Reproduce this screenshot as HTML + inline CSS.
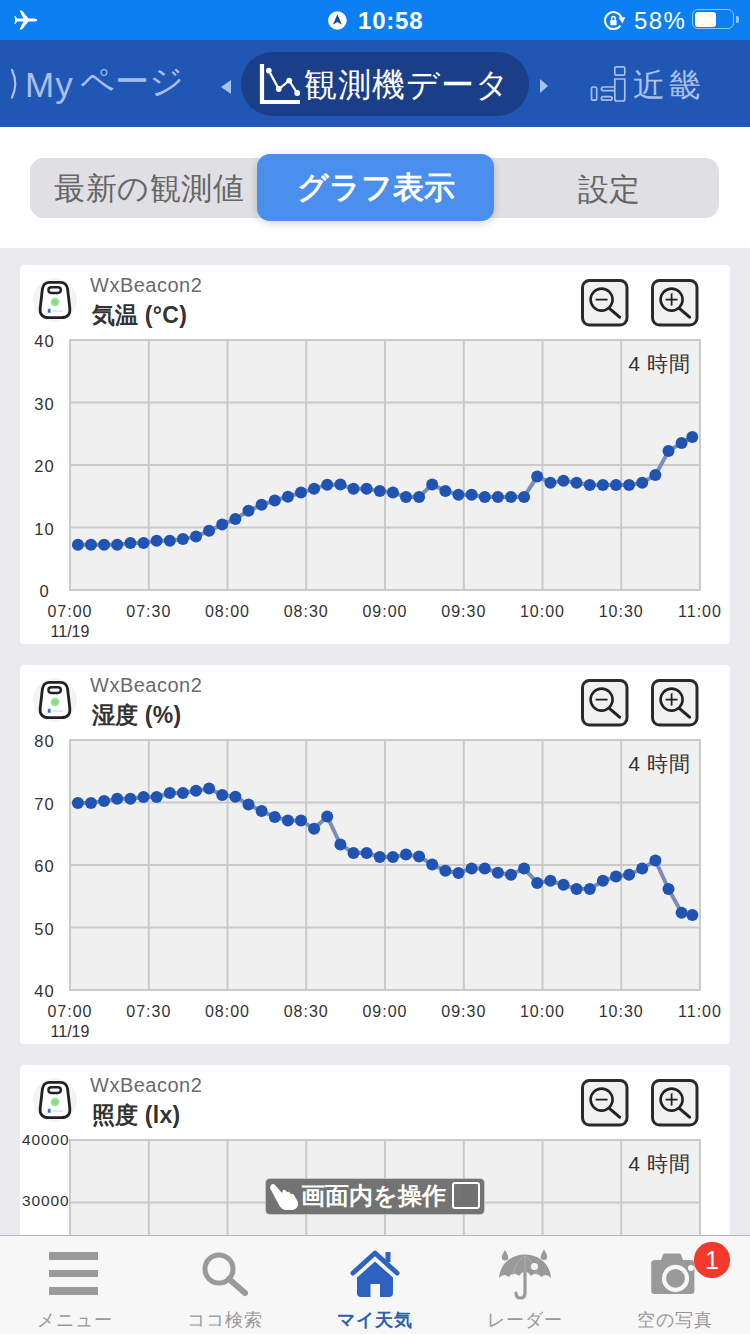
<!DOCTYPE html>
<html lang="ja">
<head>
<meta charset="utf-8">
<title>観測機データ</title>
<style>
html,body{margin:0;padding:0;}
body{width:750px;height:1334px;overflow:hidden;position:relative;background:#ebebef;font-family:"Liberation Sans",sans-serif;color:#333;}
.abs{position:absolute;}
#sb{position:absolute;left:0;top:0;width:750px;height:40px;background:#0c7ff3;}
#nav{position:absolute;left:0;top:40px;width:750px;height:87px;background:#2157b4;}
#seg-wrap{position:absolute;left:0;top:127px;width:750px;height:121px;background:#fff;}
.card{position:absolute;left:20px;width:710px;height:379px;background:#fff;border-radius:4px;}
.dn{position:absolute;left:90px;font-size:20px;line-height:24px;color:#6a6a6a;letter-spacing:0.5px;margin-top:-2.5px;}
.ttl{position:absolute;left:91.5px;font-size:23px;line-height:26px;color:#333;font-weight:bold;letter-spacing:0.3px;}
.yl{position:absolute;left:5px;width:80px;text-align:center;font-size:16.5px;line-height:20px;color:#333;margin-left:-0.5px;margin-top:1px;letter-spacing:1px;}
.yl.s{font-size:15.5px;line-height:18px;text-align:right;width:69.5px;left:0;margin-left:0;letter-spacing:0.9px;}
.xl{position:absolute;width:80px;text-align:center;font-size:16px;line-height:20px;color:#333;letter-spacing:1px;margin-top:1.8px;}
.hr4{position:absolute;right:59px;font-size:21px;line-height:24px;color:#333;letter-spacing:0.8px;}
#charts{position:absolute;left:0;top:0;}
#tab{position:absolute;left:0;top:1235px;width:750px;height:99px;background:#f7f7f7;border-top:1px solid #b4b4b4;}
.tl{position:absolute;top:73px;width:150px;text-align:center;font-size:18px;line-height:22px;color:#999;letter-spacing:1px;}
</style>
</head>
<body>
<!-- status bar -->
<div id="sb">
  <svg class="abs" style="left:14px;top:9px" width="24" height="22" viewBox="0 0 24 22">
    <path d="M3 9.5 L9.5 9.5 L5.5 1.5 L8 1.5 L14.5 9.5 L20 9.5 Q23 9.5 23 11 Q23 12.5 20 12.5 L14.5 12.5 L8 20.5 L5.5 20.5 L9.5 12.5 L3 12.5 L1.5 15 L0.5 15 L1.2 11 L0.5 7 L1.5 7 Z" fill="#fff"/>
  </svg>
  <svg class="abs" style="left:328px;top:11px" width="20" height="20" viewBox="0 0 20 20">
    <circle cx="9.4" cy="9.5" r="9.3" fill="#fff"/>
    <path d="M9.4 3.3 L13.9 13.7 L9.4 11 L4.9 13.7 Z" fill="#1c4a9a"/>
  </svg>
  <div class="abs" style="left:358px;top:6px;font-size:24px;line-height:30px;color:#fff;font-weight:bold;letter-spacing:0.8px;">10:58</div>
  <svg class="abs" style="left:603px;top:11px" width="23" height="20" viewBox="0 0 23 20">
    <path d="M17.46 14.48 A8.5 8.5 0 1 1 18.71 7.4" fill="none" stroke="#fff" stroke-width="2"/>
    <path d="M15.6 6.6 L22.2 6.2 L19.4 12.4 Z" fill="#fff"/>
    <rect x="7.2" y="9" width="6.4" height="5.2" rx="0.8" fill="#fff"/>
    <path d="M8.6 9.2 V7.4 A1.8 1.8 0 0 1 12.2 7.4 V9.2" fill="none" stroke="#fff" stroke-width="1.5"/>
  </svg>
  <div class="abs" style="left:634px;top:6px;font-size:24px;line-height:30px;color:#fff;letter-spacing:1.4px;">58%</div>
  <div class="abs" style="left:692px;top:9px;width:40px;height:18px;border:1.5px solid rgba(255,255,255,0.55);border-radius:6px;"></div>
  <div class="abs" style="left:695px;top:12px;width:21px;height:15px;background:#fffdf0;border-radius:3px;"></div>
  <div class="abs" style="left:736px;top:16px;width:2.5px;height:7px;background:rgba(255,255,255,0.55);border-radius:0 2px 2px 0;"></div>
</div>
<!-- nav -->
<div id="nav">
  <svg class="abs" style="left:8px;top:28px" width="14" height="32" viewBox="0 0 14 32"><path d="M4 2 Q10.5 15.5 4 29.5" fill="none" stroke="#a9c0ea" stroke-width="2.2" stroke-linecap="round"/></svg>
  <div class="abs" style="left:25px;top:25px;font-size:35px;line-height:40px;color:#a9c0ea;letter-spacing:1.2px;">My</div><div class="abs" style="left:80px;top:21px;font-size:34px;line-height:40px;color:#a9c0ea;letter-spacing:0.2px;">ページ</div>
  <div class="abs" style="left:221px;top:40px;width:0;height:0;border-top:7px solid transparent;border-bottom:7px solid transparent;border-right:10px solid #a9c0ea;"></div>
  <div class="abs" style="left:241px;top:12px;width:288px;height:64px;background:#1b3e88;border-radius:32px;"></div>
  <svg class="abs" style="left:259px;top:23px" width="42" height="42" viewBox="0 0 42 42">
    <path d="M3 1 V39 H41" fill="none" stroke="#fff" stroke-width="4.2"/>
    <polyline points="9.8,7.6 19.8,26 30.2,17.6 38.2,30" fill="none" stroke="#fff" stroke-width="2.2"/>
    <circle cx="9.8" cy="7.6" r="2.9" fill="#fff"/>
    <circle cx="19.8" cy="26" r="2.9" fill="#fff"/>
    <circle cx="30.2" cy="17.6" r="2.9" fill="#fff"/>
    <circle cx="38.2" cy="30" r="2.9" fill="#fff"/>
  </svg>
  <div class="abs" style="left:304px;top:24.5px;font-size:33px;line-height:40px;color:#fff;letter-spacing:1.1px;">観測機データ</div>
  <div class="abs" style="left:540px;top:39px;width:0;height:0;border-top:7.5px solid transparent;border-bottom:7.5px solid transparent;border-left:8px solid #a9c0ea;"></div>
  <svg class="abs" style="left:589px;top:25px" width="38" height="38" viewBox="0 0 38 38">
    <g fill="none" stroke="#a6bfee" stroke-width="1.7">
      <rect x="2.5" y="22" width="5.2" height="13.2" rx="1.8"/>
      <path d="M25.8 22 H14.2 Q12.4 22 12.4 23.8 Q12.4 25.6 14.2 25.6 H25.8"/>
      <rect x="12.4" y="31.6" width="10.6" height="3.6" rx="1.8"/>
      <path d="M25.8 14 H35.8 V34 Q35.8 36 33.8 36 H27.8 Q25.8 36 25.8 34 Z"/>
      <rect x="25.8" y="1.8" width="10" height="8.4" rx="1.5"/>
    </g>
  </svg>
  <div class="abs" style="left:633px;top:25px;font-size:32px;line-height:40px;color:#a9c0ea;letter-spacing:4px;">近畿</div>
</div>
<!-- segment -->
<div id="seg-wrap">
  <div class="abs" style="left:30px;top:31px;width:689px;height:60px;background:#dfdfe4;border-radius:14px;"></div>
  <div class="abs" style="left:54px;top:41.5px;font-size:31px;line-height:40px;color:#666;letter-spacing:0.6px;">最新の観測値</div>
  <div class="abs" style="left:257px;top:27px;width:237px;height:67px;background:#4a8eee;border-radius:13px;box-shadow:0 2px 8px rgba(0,0,0,0.18);"></div>
  <div class="abs" style="left:257px;top:41px;width:237px;text-align:center;font-size:31px;line-height:40px;color:#fff;font-weight:bold;">グラフ表示</div>
  <div class="abs" style="left:578px;top:42.5px;font-size:31px;line-height:40px;color:#666;">設定</div>
</div>
<!-- cards -->
<div class="card" style="top:265px"></div>
<div class="card" style="top:665px"></div>
<div class="card" style="top:1065px"></div>
<svg id="charts" width="750" height="1334" viewBox="0 0 750 1334">
<rect x="70" y="340" width="630" height="250" fill="#f0f0f0"/>
<line x1="70.0" y1="339" x2="70.0" y2="591" stroke="#cacaca" stroke-width="2"/>
<line x1="148.8" y1="339" x2="148.8" y2="591" stroke="#cacaca" stroke-width="2"/>
<line x1="227.5" y1="339" x2="227.5" y2="591" stroke="#cacaca" stroke-width="2"/>
<line x1="306.2" y1="339" x2="306.2" y2="591" stroke="#cacaca" stroke-width="2"/>
<line x1="385.0" y1="339" x2="385.0" y2="591" stroke="#cacaca" stroke-width="2"/>
<line x1="463.8" y1="339" x2="463.8" y2="591" stroke="#cacaca" stroke-width="2"/>
<line x1="542.5" y1="339" x2="542.5" y2="591" stroke="#cacaca" stroke-width="2"/>
<line x1="621.2" y1="339" x2="621.2" y2="591" stroke="#cacaca" stroke-width="2"/>
<line x1="700.0" y1="339" x2="700.0" y2="591" stroke="#cacaca" stroke-width="2"/>
<line x1="69" y1="340.0" x2="701" y2="340.0" stroke="#cacaca" stroke-width="2"/>
<line x1="69" y1="402.5" x2="701" y2="402.5" stroke="#cacaca" stroke-width="2"/>
<line x1="69" y1="465.0" x2="701" y2="465.0" stroke="#cacaca" stroke-width="2"/>
<line x1="69" y1="527.5" x2="701" y2="527.5" stroke="#cacaca" stroke-width="2"/>
<line x1="69" y1="590.0" x2="701" y2="590.0" stroke="#cacaca" stroke-width="2"/>
<polyline points="77.9,544.8 91.0,544.8 104.1,544.8 117.2,544.8 130.4,542.9 143.5,542.9 156.6,540.8 169.8,540.8 182.9,538.9 196.0,536.6 209.1,530.7 222.2,524.6 235.4,518.9 248.5,510.8 261.6,504.8 274.8,500.5 287.9,496.7 301.0,492.6 314.1,488.8 327.2,484.7 340.4,484.6 353.5,488.8 366.6,488.8 379.8,490.9 392.9,492.6 406.0,496.9 419.1,496.9 432.2,484.5 445.4,490.9 458.5,494.8 471.6,494.8 484.8,496.9 497.9,496.9 511.0,496.9 524.1,496.9 537.2,476.4 550.4,482.8 563.5,480.7 576.6,482.8 589.8,485.0 602.9,485.0 616.0,485.0 629.1,485.0 642.2,482.8 655.4,475.0 668.5,451.1 681.6,442.9 692.3,436.9" fill="none" stroke="#7a8fb8" stroke-width="4" stroke-linejoin="round"/>
<circle cx="77.9" cy="544.8" r="6" fill="#2154b2"/>
<circle cx="91.0" cy="544.8" r="6" fill="#2154b2"/>
<circle cx="104.1" cy="544.8" r="6" fill="#2154b2"/>
<circle cx="117.2" cy="544.8" r="6" fill="#2154b2"/>
<circle cx="130.4" cy="542.9" r="6" fill="#2154b2"/>
<circle cx="143.5" cy="542.9" r="6" fill="#2154b2"/>
<circle cx="156.6" cy="540.8" r="6" fill="#2154b2"/>
<circle cx="169.8" cy="540.8" r="6" fill="#2154b2"/>
<circle cx="182.9" cy="538.9" r="6" fill="#2154b2"/>
<circle cx="196.0" cy="536.6" r="6" fill="#2154b2"/>
<circle cx="209.1" cy="530.7" r="6" fill="#2154b2"/>
<circle cx="222.2" cy="524.6" r="6" fill="#2154b2"/>
<circle cx="235.4" cy="518.9" r="6" fill="#2154b2"/>
<circle cx="248.5" cy="510.8" r="6" fill="#2154b2"/>
<circle cx="261.6" cy="504.8" r="6" fill="#2154b2"/>
<circle cx="274.8" cy="500.5" r="6" fill="#2154b2"/>
<circle cx="287.9" cy="496.7" r="6" fill="#2154b2"/>
<circle cx="301.0" cy="492.6" r="6" fill="#2154b2"/>
<circle cx="314.1" cy="488.8" r="6" fill="#2154b2"/>
<circle cx="327.2" cy="484.7" r="6" fill="#2154b2"/>
<circle cx="340.4" cy="484.6" r="6" fill="#2154b2"/>
<circle cx="353.5" cy="488.8" r="6" fill="#2154b2"/>
<circle cx="366.6" cy="488.8" r="6" fill="#2154b2"/>
<circle cx="379.8" cy="490.9" r="6" fill="#2154b2"/>
<circle cx="392.9" cy="492.6" r="6" fill="#2154b2"/>
<circle cx="406.0" cy="496.9" r="6" fill="#2154b2"/>
<circle cx="419.1" cy="496.9" r="6" fill="#2154b2"/>
<circle cx="432.2" cy="484.5" r="6" fill="#2154b2"/>
<circle cx="445.4" cy="490.9" r="6" fill="#2154b2"/>
<circle cx="458.5" cy="494.8" r="6" fill="#2154b2"/>
<circle cx="471.6" cy="494.8" r="6" fill="#2154b2"/>
<circle cx="484.8" cy="496.9" r="6" fill="#2154b2"/>
<circle cx="497.9" cy="496.9" r="6" fill="#2154b2"/>
<circle cx="511.0" cy="496.9" r="6" fill="#2154b2"/>
<circle cx="524.1" cy="496.9" r="6" fill="#2154b2"/>
<circle cx="537.2" cy="476.4" r="6" fill="#2154b2"/>
<circle cx="550.4" cy="482.8" r="6" fill="#2154b2"/>
<circle cx="563.5" cy="480.7" r="6" fill="#2154b2"/>
<circle cx="576.6" cy="482.8" r="6" fill="#2154b2"/>
<circle cx="589.8" cy="485.0" r="6" fill="#2154b2"/>
<circle cx="602.9" cy="485.0" r="6" fill="#2154b2"/>
<circle cx="616.0" cy="485.0" r="6" fill="#2154b2"/>
<circle cx="629.1" cy="485.0" r="6" fill="#2154b2"/>
<circle cx="642.2" cy="482.8" r="6" fill="#2154b2"/>
<circle cx="655.4" cy="475.0" r="6" fill="#2154b2"/>
<circle cx="668.5" cy="451.1" r="6" fill="#2154b2"/>
<circle cx="681.6" cy="442.9" r="6" fill="#2154b2"/>
<circle cx="692.3" cy="436.9" r="6" fill="#2154b2"/>
<rect x="70" y="740" width="630" height="250" fill="#f0f0f0"/>
<line x1="70.0" y1="739" x2="70.0" y2="991" stroke="#cacaca" stroke-width="2"/>
<line x1="148.8" y1="739" x2="148.8" y2="991" stroke="#cacaca" stroke-width="2"/>
<line x1="227.5" y1="739" x2="227.5" y2="991" stroke="#cacaca" stroke-width="2"/>
<line x1="306.2" y1="739" x2="306.2" y2="991" stroke="#cacaca" stroke-width="2"/>
<line x1="385.0" y1="739" x2="385.0" y2="991" stroke="#cacaca" stroke-width="2"/>
<line x1="463.8" y1="739" x2="463.8" y2="991" stroke="#cacaca" stroke-width="2"/>
<line x1="542.5" y1="739" x2="542.5" y2="991" stroke="#cacaca" stroke-width="2"/>
<line x1="621.2" y1="739" x2="621.2" y2="991" stroke="#cacaca" stroke-width="2"/>
<line x1="700.0" y1="739" x2="700.0" y2="991" stroke="#cacaca" stroke-width="2"/>
<line x1="69" y1="740.0" x2="701" y2="740.0" stroke="#cacaca" stroke-width="2"/>
<line x1="69" y1="802.5" x2="701" y2="802.5" stroke="#cacaca" stroke-width="2"/>
<line x1="69" y1="865.0" x2="701" y2="865.0" stroke="#cacaca" stroke-width="2"/>
<line x1="69" y1="927.5" x2="701" y2="927.5" stroke="#cacaca" stroke-width="2"/>
<line x1="69" y1="990.0" x2="701" y2="990.0" stroke="#cacaca" stroke-width="2"/>
<polyline points="77.9,802.9 91.0,802.9 104.1,801.1 117.2,798.8 130.4,798.8 143.5,797.0 156.6,797.0 169.8,793.0 182.9,793.0 196.0,790.8 209.1,788.6 222.2,795.0 235.4,796.7 248.5,804.6 261.6,811.0 274.8,816.9 287.9,820.6 301.0,820.6 314.1,828.7 327.2,816.5 340.4,844.5 353.5,852.9 366.6,852.9 379.8,857.0 392.9,857.0 406.0,854.6 419.1,856.5 432.2,864.6 445.4,870.8 458.5,873.0 471.6,868.4 484.8,868.4 497.9,872.7 511.0,874.8 524.1,868.4 537.2,882.9 550.4,880.8 563.5,884.8 576.6,889.1 589.8,889.1 602.9,880.8 616.0,876.6 629.1,874.7 642.2,868.6 655.4,860.5 668.5,889.0 681.6,912.8 692.3,915.1" fill="none" stroke="#7a8fb8" stroke-width="4" stroke-linejoin="round"/>
<circle cx="77.9" cy="802.9" r="6" fill="#2154b2"/>
<circle cx="91.0" cy="802.9" r="6" fill="#2154b2"/>
<circle cx="104.1" cy="801.1" r="6" fill="#2154b2"/>
<circle cx="117.2" cy="798.8" r="6" fill="#2154b2"/>
<circle cx="130.4" cy="798.8" r="6" fill="#2154b2"/>
<circle cx="143.5" cy="797.0" r="6" fill="#2154b2"/>
<circle cx="156.6" cy="797.0" r="6" fill="#2154b2"/>
<circle cx="169.8" cy="793.0" r="6" fill="#2154b2"/>
<circle cx="182.9" cy="793.0" r="6" fill="#2154b2"/>
<circle cx="196.0" cy="790.8" r="6" fill="#2154b2"/>
<circle cx="209.1" cy="788.6" r="6" fill="#2154b2"/>
<circle cx="222.2" cy="795.0" r="6" fill="#2154b2"/>
<circle cx="235.4" cy="796.7" r="6" fill="#2154b2"/>
<circle cx="248.5" cy="804.6" r="6" fill="#2154b2"/>
<circle cx="261.6" cy="811.0" r="6" fill="#2154b2"/>
<circle cx="274.8" cy="816.9" r="6" fill="#2154b2"/>
<circle cx="287.9" cy="820.6" r="6" fill="#2154b2"/>
<circle cx="301.0" cy="820.6" r="6" fill="#2154b2"/>
<circle cx="314.1" cy="828.7" r="6" fill="#2154b2"/>
<circle cx="327.2" cy="816.5" r="6" fill="#2154b2"/>
<circle cx="340.4" cy="844.5" r="6" fill="#2154b2"/>
<circle cx="353.5" cy="852.9" r="6" fill="#2154b2"/>
<circle cx="366.6" cy="852.9" r="6" fill="#2154b2"/>
<circle cx="379.8" cy="857.0" r="6" fill="#2154b2"/>
<circle cx="392.9" cy="857.0" r="6" fill="#2154b2"/>
<circle cx="406.0" cy="854.6" r="6" fill="#2154b2"/>
<circle cx="419.1" cy="856.5" r="6" fill="#2154b2"/>
<circle cx="432.2" cy="864.6" r="6" fill="#2154b2"/>
<circle cx="445.4" cy="870.8" r="6" fill="#2154b2"/>
<circle cx="458.5" cy="873.0" r="6" fill="#2154b2"/>
<circle cx="471.6" cy="868.4" r="6" fill="#2154b2"/>
<circle cx="484.8" cy="868.4" r="6" fill="#2154b2"/>
<circle cx="497.9" cy="872.7" r="6" fill="#2154b2"/>
<circle cx="511.0" cy="874.8" r="6" fill="#2154b2"/>
<circle cx="524.1" cy="868.4" r="6" fill="#2154b2"/>
<circle cx="537.2" cy="882.9" r="6" fill="#2154b2"/>
<circle cx="550.4" cy="880.8" r="6" fill="#2154b2"/>
<circle cx="563.5" cy="884.8" r="6" fill="#2154b2"/>
<circle cx="576.6" cy="889.1" r="6" fill="#2154b2"/>
<circle cx="589.8" cy="889.1" r="6" fill="#2154b2"/>
<circle cx="602.9" cy="880.8" r="6" fill="#2154b2"/>
<circle cx="616.0" cy="876.6" r="6" fill="#2154b2"/>
<circle cx="629.1" cy="874.7" r="6" fill="#2154b2"/>
<circle cx="642.2" cy="868.6" r="6" fill="#2154b2"/>
<circle cx="655.4" cy="860.5" r="6" fill="#2154b2"/>
<circle cx="668.5" cy="889.0" r="6" fill="#2154b2"/>
<circle cx="681.6" cy="912.8" r="6" fill="#2154b2"/>
<circle cx="692.3" cy="915.1" r="6" fill="#2154b2"/>
<rect x="70" y="1140" width="630" height="250" fill="#f0f0f0"/>
<line x1="70.0" y1="1139" x2="70.0" y2="1391" stroke="#cacaca" stroke-width="2"/>
<line x1="148.8" y1="1139" x2="148.8" y2="1391" stroke="#cacaca" stroke-width="2"/>
<line x1="227.5" y1="1139" x2="227.5" y2="1391" stroke="#cacaca" stroke-width="2"/>
<line x1="306.2" y1="1139" x2="306.2" y2="1391" stroke="#cacaca" stroke-width="2"/>
<line x1="385.0" y1="1139" x2="385.0" y2="1391" stroke="#cacaca" stroke-width="2"/>
<line x1="463.8" y1="1139" x2="463.8" y2="1391" stroke="#cacaca" stroke-width="2"/>
<line x1="542.5" y1="1139" x2="542.5" y2="1391" stroke="#cacaca" stroke-width="2"/>
<line x1="621.2" y1="1139" x2="621.2" y2="1391" stroke="#cacaca" stroke-width="2"/>
<line x1="700.0" y1="1139" x2="700.0" y2="1391" stroke="#cacaca" stroke-width="2"/>
<line x1="69" y1="1140.0" x2="701" y2="1140.0" stroke="#cacaca" stroke-width="2"/>
<line x1="69" y1="1202.5" x2="701" y2="1202.5" stroke="#cacaca" stroke-width="2"/>
<line x1="69" y1="1265.0" x2="701" y2="1265.0" stroke="#cacaca" stroke-width="2"/>
<line x1="69" y1="1327.5" x2="701" y2="1327.5" stroke="#cacaca" stroke-width="2"/>
<line x1="69" y1="1390.0" x2="701" y2="1390.0" stroke="#cacaca" stroke-width="2"/>
</svg>

<div style="position:absolute;left:30px;top:275px"><svg class="dev" width="50" height="50" viewBox="0 0 50 50">
<circle cx="25" cy="25" r="22" fill="#f4f4f4"/>
<path d="M20 7.4 L30 7.4 Q36.6 7.4 37.6 14 L39.8 33 Q40.8 42.6 31 42.6 L19 42.6 Q9.2 42.6 10.2 33 L12.4 14 Q13.4 7.4 20 7.4 Z" fill="#fff" stroke="#222" stroke-width="2.8"/>
<rect x="18.4" y="12.2" width="12.4" height="5.8" rx="2.9" fill="#fff" stroke="#222" stroke-width="2.4"/>
<defs><radialGradient id="gg"><stop offset="0" stop-color="#7fd47f"/><stop offset="0.6" stop-color="#9be09b"/><stop offset="1" stop-color="#ffffff" stop-opacity="0"/></radialGradient></defs><circle cx="25" cy="27" r="5.8" fill="url(#gg)"/>
<rect x="17.8" y="33.8" width="2.8" height="4" fill="#3a6fd0"/>
<rect x="23" y="35.5" width="10" height="1" fill="#d0d0e6"/>
</svg></div>
<div class="dn" style="top:275px">WxBeacon2</div>
<div class="ttl" style="top:301.5px">気温 (°C)</div>
<div style="position:absolute;left:580.5px;top:279px"><svg style="position:absolute;left:0px;top:0px" width="48" height="48" viewBox="0 0 48 48">
<rect x="1.5" y="1.5" width="44.5" height="44.5" rx="7" fill="#f1f1f1" stroke="#2a2a2a" stroke-width="3"/>
<circle cx="20.6" cy="20.6" r="11" fill="none" stroke="#222" stroke-width="2.6"/>
<line x1="28.6" y1="29.6" x2="38.6" y2="38.2" stroke="#222" stroke-width="3" stroke-linecap="round"/>
<line x1="14.6" y1="20.6" x2="26.6" y2="20.6" stroke="#222" stroke-width="1.8"/>
</svg><svg style="position:absolute;left:70px;top:0px" width="48" height="48" viewBox="0 0 48 48">
<rect x="1.5" y="1.5" width="44.5" height="44.5" rx="7" fill="#f1f1f1" stroke="#2a2a2a" stroke-width="3"/>
<circle cx="20.6" cy="20.6" r="11" fill="none" stroke="#222" stroke-width="2.6"/>
<line x1="28.6" y1="29.6" x2="38.6" y2="38.2" stroke="#222" stroke-width="3" stroke-linecap="round"/>
<line x1="14.6" y1="20.6" x2="26.6" y2="20.6" stroke="#222" stroke-width="1.8"/><line x1="20.6" y1="14.4" x2="20.6" y2="26.6" stroke="#222" stroke-width="1.8"/>
</svg></div>

<div class="yl" style="top:330.0px">40</div>
<div class="yl" style="top:392.5px">30</div>
<div class="yl" style="top:455.0px">20</div>
<div class="yl" style="top:517.5px">10</div>
<div class="yl" style="top:580.0px">0</div>
<div class="xl" style="left:30.0px;top:600px">07:00</div>
<div class="xl" style="left:108.8px;top:600px">07:30</div>
<div class="xl" style="left:187.5px;top:600px">08:00</div>
<div class="xl" style="left:266.2px;top:600px">08:30</div>
<div class="xl" style="left:345.0px;top:600px">09:00</div>
<div class="xl" style="left:423.8px;top:600px">09:30</div>
<div class="xl" style="left:502.5px;top:600px">10:00</div>
<div class="xl" style="left:581.2px;top:600px">10:30</div>
<div class="xl" style="left:660.0px;top:600px">11:00</div>
<div class="xl" style="left:30px;top:620.5px;letter-spacing:0px">11/19</div>
<div class="hr4" style="top:352px">4 時間</div>

<div style="position:absolute;left:30px;top:675px"><svg class="dev" width="50" height="50" viewBox="0 0 50 50">
<circle cx="25" cy="25" r="22" fill="#f4f4f4"/>
<path d="M20 7.4 L30 7.4 Q36.6 7.4 37.6 14 L39.8 33 Q40.8 42.6 31 42.6 L19 42.6 Q9.2 42.6 10.2 33 L12.4 14 Q13.4 7.4 20 7.4 Z" fill="#fff" stroke="#222" stroke-width="2.8"/>
<rect x="18.4" y="12.2" width="12.4" height="5.8" rx="2.9" fill="#fff" stroke="#222" stroke-width="2.4"/>
<defs><radialGradient id="gg"><stop offset="0" stop-color="#7fd47f"/><stop offset="0.6" stop-color="#9be09b"/><stop offset="1" stop-color="#ffffff" stop-opacity="0"/></radialGradient></defs><circle cx="25" cy="27" r="5.8" fill="url(#gg)"/>
<rect x="17.8" y="33.8" width="2.8" height="4" fill="#3a6fd0"/>
<rect x="23" y="35.5" width="10" height="1" fill="#d0d0e6"/>
</svg></div>
<div class="dn" style="top:675px">WxBeacon2</div>
<div class="ttl" style="top:701.5px">湿度 (%)</div>
<div style="position:absolute;left:580.5px;top:679px"><svg style="position:absolute;left:0px;top:0px" width="48" height="48" viewBox="0 0 48 48">
<rect x="1.5" y="1.5" width="44.5" height="44.5" rx="7" fill="#f1f1f1" stroke="#2a2a2a" stroke-width="3"/>
<circle cx="20.6" cy="20.6" r="11" fill="none" stroke="#222" stroke-width="2.6"/>
<line x1="28.6" y1="29.6" x2="38.6" y2="38.2" stroke="#222" stroke-width="3" stroke-linecap="round"/>
<line x1="14.6" y1="20.6" x2="26.6" y2="20.6" stroke="#222" stroke-width="1.8"/>
</svg><svg style="position:absolute;left:70px;top:0px" width="48" height="48" viewBox="0 0 48 48">
<rect x="1.5" y="1.5" width="44.5" height="44.5" rx="7" fill="#f1f1f1" stroke="#2a2a2a" stroke-width="3"/>
<circle cx="20.6" cy="20.6" r="11" fill="none" stroke="#222" stroke-width="2.6"/>
<line x1="28.6" y1="29.6" x2="38.6" y2="38.2" stroke="#222" stroke-width="3" stroke-linecap="round"/>
<line x1="14.6" y1="20.6" x2="26.6" y2="20.6" stroke="#222" stroke-width="1.8"/><line x1="20.6" y1="14.4" x2="20.6" y2="26.6" stroke="#222" stroke-width="1.8"/>
</svg></div>

<div class="yl" style="top:730.0px">80</div>
<div class="yl" style="top:792.5px">70</div>
<div class="yl" style="top:855.0px">60</div>
<div class="yl" style="top:917.5px">50</div>
<div class="yl" style="top:980.0px">40</div>
<div class="xl" style="left:30.0px;top:1000px">07:00</div>
<div class="xl" style="left:108.8px;top:1000px">07:30</div>
<div class="xl" style="left:187.5px;top:1000px">08:00</div>
<div class="xl" style="left:266.2px;top:1000px">08:30</div>
<div class="xl" style="left:345.0px;top:1000px">09:00</div>
<div class="xl" style="left:423.8px;top:1000px">09:30</div>
<div class="xl" style="left:502.5px;top:1000px">10:00</div>
<div class="xl" style="left:581.2px;top:1000px">10:30</div>
<div class="xl" style="left:660.0px;top:1000px">11:00</div>
<div class="xl" style="left:30px;top:1020.5px;letter-spacing:0px">11/19</div>
<div class="hr4" style="top:752px">4 時間</div>

<div style="position:absolute;left:30px;top:1075px"><svg class="dev" width="50" height="50" viewBox="0 0 50 50">
<circle cx="25" cy="25" r="22" fill="#f4f4f4"/>
<path d="M20 7.4 L30 7.4 Q36.6 7.4 37.6 14 L39.8 33 Q40.8 42.6 31 42.6 L19 42.6 Q9.2 42.6 10.2 33 L12.4 14 Q13.4 7.4 20 7.4 Z" fill="#fff" stroke="#222" stroke-width="2.8"/>
<rect x="18.4" y="12.2" width="12.4" height="5.8" rx="2.9" fill="#fff" stroke="#222" stroke-width="2.4"/>
<defs><radialGradient id="gg"><stop offset="0" stop-color="#7fd47f"/><stop offset="0.6" stop-color="#9be09b"/><stop offset="1" stop-color="#ffffff" stop-opacity="0"/></radialGradient></defs><circle cx="25" cy="27" r="5.8" fill="url(#gg)"/>
<rect x="17.8" y="33.8" width="2.8" height="4" fill="#3a6fd0"/>
<rect x="23" y="35.5" width="10" height="1" fill="#d0d0e6"/>
</svg></div>
<div class="dn" style="top:1075px">WxBeacon2</div>
<div class="ttl" style="top:1101.5px">照度 (lx)</div>
<div style="position:absolute;left:580.5px;top:1079px"><svg style="position:absolute;left:0px;top:0px" width="48" height="48" viewBox="0 0 48 48">
<rect x="1.5" y="1.5" width="44.5" height="44.5" rx="7" fill="#f1f1f1" stroke="#2a2a2a" stroke-width="3"/>
<circle cx="20.6" cy="20.6" r="11" fill="none" stroke="#222" stroke-width="2.6"/>
<line x1="28.6" y1="29.6" x2="38.6" y2="38.2" stroke="#222" stroke-width="3" stroke-linecap="round"/>
<line x1="14.6" y1="20.6" x2="26.6" y2="20.6" stroke="#222" stroke-width="1.8"/>
</svg><svg style="position:absolute;left:70px;top:0px" width="48" height="48" viewBox="0 0 48 48">
<rect x="1.5" y="1.5" width="44.5" height="44.5" rx="7" fill="#f1f1f1" stroke="#2a2a2a" stroke-width="3"/>
<circle cx="20.6" cy="20.6" r="11" fill="none" stroke="#222" stroke-width="2.6"/>
<line x1="28.6" y1="29.6" x2="38.6" y2="38.2" stroke="#222" stroke-width="3" stroke-linecap="round"/>
<line x1="14.6" y1="20.6" x2="26.6" y2="20.6" stroke="#222" stroke-width="1.8"/><line x1="20.6" y1="14.4" x2="20.6" y2="26.6" stroke="#222" stroke-width="1.8"/>
</svg></div>

<div class="yl s" style="top:1129.5px">40000</div>
<div class="yl s" style="top:1191.0px">30000</div>
<div class="yl s" style="top:1253.5px">20000</div>
<div class="yl s" style="top:1316.0px">10000</div>
<div class="yl s" style="top:1378.5px">0</div>
<div class="hr4" style="top:1152px">4 時間</div>
<!-- overlay -->
<div class="abs" style="left:265px;top:1178px;width:218px;height:35px;background:rgba(104,104,104,0.92);border:1px solid rgba(255,255,255,0.6);border-radius:5px;"></div>
<svg class="abs" style="left:268px;top:1181px" width="34" height="30" viewBox="0 0 34 30">
  <path d="M3 4 Q5 2 7 4 L14 12 L15 9 Q17 8 18 10 L19 11 Q21 10 22 12 L23 13 Q25 12 26 14 L30 21 Q31 27 25 29 L17 29 Q13 28 11 24 L2 7 Q2 5 3 4 Z" fill="#fff"/>
</svg>
<div class="abs" style="left:301px;top:1181px;font-size:24px;line-height:30px;color:#fff;font-weight:600;">画面内を操作</div>
<div class="abs" style="left:452px;top:1182px;width:24px;height:23px;border:2px solid #fff;border-radius:3px;"></div>
<!-- tab bar -->
<div id="tab">
  <div class="abs" style="left:49px;top:16px;width:49px;height:7.5px;background:#9a9a9a;"></div>
  <div class="abs" style="left:49px;top:33.5px;width:49px;height:7.5px;background:#9a9a9a;"></div>
  <div class="abs" style="left:49px;top:51px;width:49px;height:7.5px;background:#9a9a9a;"></div>
  <div class="tl" style="left:0px;">メニュー</div>
  <svg class="abs" style="left:201px;top:15px" width="50" height="46" viewBox="0 0 50 46">
    <circle cx="18" cy="18" r="14" fill="none" stroke="#9a9a9a" stroke-width="5"/>
    <line x1="28" y1="28" x2="44" y2="42" stroke="#9a9a9a" stroke-width="6" stroke-linecap="round"/>
  </svg>
  <div class="tl" style="left:150px;">ココ検索</div>
  <svg class="abs" style="left:349px;top:13px" width="52" height="49" viewBox="0 0 52 49">
    <path d="M4 24 L26 4 L48 24" fill="none" stroke="#2d63bf" stroke-width="5" stroke-linecap="round" stroke-linejoin="round"/>
    <rect x="36.5" y="3" width="5" height="10" fill="#2d63bf"/>
    <path d="M8 28.5 L26 12.5 L44 28.5 V44 Q44 48 40 48 H31 V35 H21.5 V48 H12 Q8 48 8 44 Z" fill="#2d63bf"/>
  </svg>
  <div class="tl" style="left:300px;color:#2c5fb0;font-weight:bold;">マイ天気</div>
  <svg class="abs" style="left:498px;top:12px" width="56" height="52" viewBox="0 0 56 52">
    <path d="M1 30 C2 15 14 6.5 27 6.5 C40 6.5 52 15 53 30 Q48 24.5 43.5 29 Q38.5 23 33 28 Q29.5 23.5 27 23.5 Q24.5 23.5 21 28 Q15.5 23 10.5 29 Q6 24.5 1 30 Z" fill="#9a9a9a"/>
    <path d="M27 8 L27 26 M27 8 Q17 14 15 27 M27 8 Q37 14 39 27" fill="none" stroke="#b5b5b5" stroke-width="0.8"/>
    <path d="M27 24 V45 Q27 50 22.5 50 Q18 50 18 45" fill="none" stroke="#9a9a9a" stroke-width="3.2" stroke-linecap="round"/>
    <path d="M7 2 Q3.8 7 3.8 9.2 A3.2 3.2 0 0 0 10.2 9.2 Q10.2 7 7 2 Z" fill="#9a9a9a"/>
    <path d="M46 1.5 Q42.8 6.5 42.8 8.7 A3.2 3.2 0 0 0 49.2 8.7 Q49.2 6.5 46 1.5 Z" fill="#9a9a9a"/>
    <circle cx="36.5" cy="18.5" r="3.6" fill="#f7f7f7"/>
  </svg>
  <div class="tl" style="left:450px;">レーダー</div>
  <svg class="abs" style="left:650px;top:14px" width="50" height="46" viewBox="0 0 50 46">
    <path d="M4.5 10 H11 L13 4.5 Q13.5 3.6 15 3.6 H29 Q30.5 3.6 31 4.5 L33 10 H41 Q44.4 10 44.4 13.5 V40.5 Q44.4 44 41 44 H4.5 Q1.2 44 1.2 40.5 V13.5 Q1.2 10 4.5 10 Z" fill="#9a9a9a"/>
    <circle cx="25.5" cy="28.4" r="13.6" fill="#f7f7f7"/>
    <circle cx="25.5" cy="28.4" r="9.4" fill="#9a9a9a"/>
    <circle cx="41" cy="18" r="3" fill="#f7f7f7"/>
  </svg>
  <div class="abs" style="left:694.4px;top:6.4px;width:35.2px;height:35.2px;border-radius:50%;background:#f2392b;color:#fff;font-size:25px;line-height:36px;text-align:center;">1</div>
  <div class="tl" style="left:600px;">空の写真</div>
</div>
</body>
</html>
